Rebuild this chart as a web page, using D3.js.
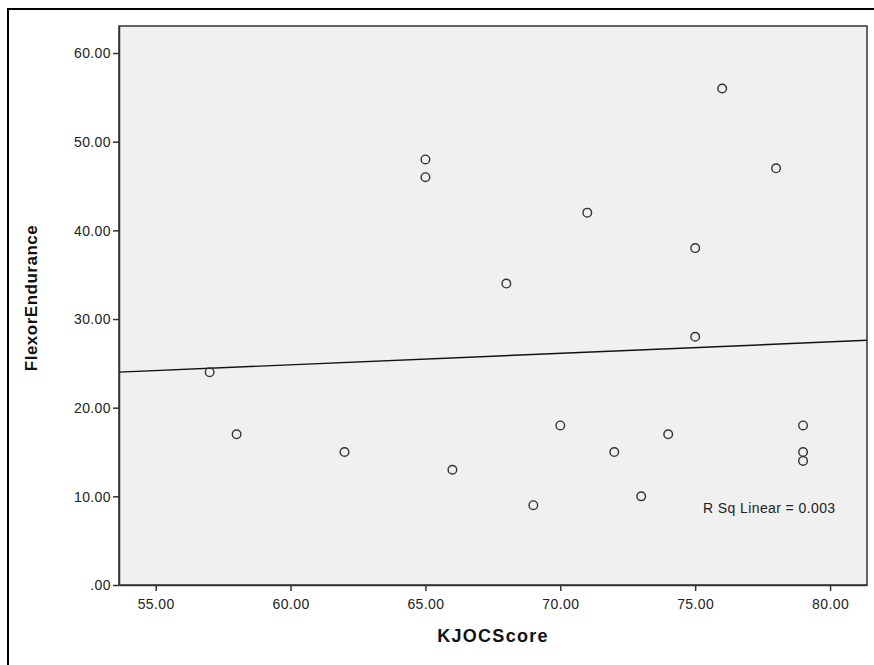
<!DOCTYPE html>
<html>
<head>
<meta charset="utf-8">
<script src="https://cdn.jsdelivr.net/npm/d3@7"></script>
<style>
  body { margin: 0; background: #fff; }
  svg { display: block; font-family: "Liberation Sans", Arial, sans-serif; }
</style>
</head>
<body>
<div id="chart"></div>
<script>
// KJOCScore vs FlexorEndurance
const kjocScore = [57, 58, 62, 65, 65, 66, 68, 69, 70, 71, 72, 73, 74, 75, 75, 76, 78, 79, 79, 79];
const flexorEndurance = [24, 17, 15, 48, 46, 13, 34, 9, 18, 42, 15, 10, 17, 38, 28, 56, 47, 18, 15, 14];
const xTicks = [55, 60, 65, 70, 75, 80];
const yTicks = [0, 10, 20, 30, 40, 50, 60];

const width = 874;
const height = 665;
const margin = { top: 26, right: 7, bottom: 80, left: 119 };

const svg = d3.select('#chart')
    .append('svg')
    .attr('width', width)
    .attr('height', height);

// outer frame (runs off the right and bottom of the picture)
svg.append('rect')
    .attr('x', 8)
    .attr('y', 9)
    .attr('width', width + 20)
    .attr('height', height + 20)
    .attr('fill', 'none')
    .attr('stroke', '#000')
    .attr('stroke-width', 2);

const x = d3.scaleLinear()
    .domain([53.64, 81.37])
    .range([margin.left, width - margin.right]);

const y = d3.scaleLinear()
    .domain([0, 63.05])
    .range([height - margin.bottom, margin.top]);

const fmt = v => v === 0 ? '.00' : d3.format('.2f')(v);

// plot background
svg.append('rect')
    .attr('x', x.range()[0])
    .attr('y', y.range()[1])
    .attr('width', x.range()[1] - x.range()[0])
    .attr('height', y.range()[0] - y.range()[1])
    .attr('fill', '#f0f0f0')
    .attr('stroke', '#333')
    .attr('stroke-width', 1.5);

// axes
const xAxis = svg.append('g')
    .attr('transform', `translate(0,${y.range()[0]})`)
    .call(d3.axisBottom(x).tickValues(xTicks).tickFormat(fmt).tickSize(6).tickSizeOuter(0));

const yAxis = svg.append('g')
    .attr('transform', `translate(${x.range()[0]},0)`)
    .call(d3.axisLeft(y).tickValues(yTicks).tickFormat(fmt).tickSize(6).tickSizeOuter(0));

[xAxis, yAxis].forEach(ax => {
    ax.select('.domain').attr('stroke', '#333').attr('stroke-width', 1.5);
    ax.selectAll('.tick line').attr('stroke', '#333').attr('stroke-width', 1.5);
    ax.selectAll('.tick text')
        .attr('fill', '#222')
        .style('font-size', '14px')
        .style('letter-spacing', '0.4px')
        .style('font-family', '"Liberation Sans", Arial, sans-serif');
});
xAxis.selectAll('.tick text').attr('dy', '1.05em');
yAxis.selectAll('.tick text').attr('x', -8).attr('dy', '0.35em');

// linear fit
const mx = d3.mean(kjocScore);
const my = d3.mean(flexorEndurance);
let sxy = 0, sxx = 0;
kjocScore.forEach((v, i) => {
    sxy += (v - mx) * (flexorEndurance[i] - my);
    sxx += (v - mx) * (v - mx);
});
const slope = sxy / sxx;
const intercept = my - slope * mx;
const [x0, x1] = x.domain();

svg.append('line')
    .attr('x1', x(x0))
    .attr('y1', y(intercept + slope * x0))
    .attr('x2', x(x1))
    .attr('y2', y(intercept + slope * x1))
    .attr('stroke', '#111')
    .attr('stroke-width', 1.4);

// points
svg.append('g')
    .selectAll('circle')
    .data(kjocScore)
    .enter()
    .append('circle')
    .attr('cx', d => x(d))
    .attr('cy', (d, i) => y(flexorEndurance[i]))
    .attr('r', 4.3)
    .attr('fill', 'none')
    .attr('stroke', '#333')
    .attr('stroke-width', 1.4);

// R squared note
svg.append('text')
    .attr('x', 703)
    .attr('y', 513)
    .attr('fill', '#222')
    .style('font-size', '14px')
    .style('letter-spacing', '0.4px')
    .text('R Sq Linear = 0.003');

// axis titles
svg.append('text')
    .attr('x', 493)
    .attr('y', 642)
    .attr('text-anchor', 'middle')
    .attr('fill', '#111')
    .style('font-size', '18px')
    .style('font-weight', 'bold')
    .style('letter-spacing', '1.3px')
    .text('KJOCScore');

svg.append('text')
    .attr('transform', 'translate(37,298) rotate(-90)')
    .attr('text-anchor', 'middle')
    .attr('fill', '#111')
    .style('font-size', '17px')
    .style('font-weight', 'bold')
    .style('letter-spacing', '0.5px')
    .text('FlexorEndurance');
</script>
</body>
</html>
